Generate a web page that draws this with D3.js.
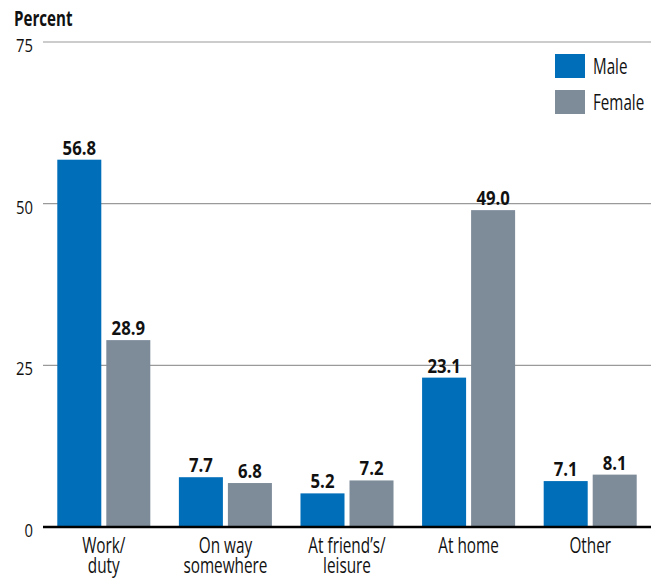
<!DOCTYPE html>
<html>
<head>
<meta charset="utf-8">
<script src="https://cdn.jsdelivr.net/npm/d3@7"></script>
<style>
  body { margin: 0; background: #fff; }
  text { font-family: "Open Sans", "Noto Sans", sans-serif; fill: #111; }
</style>
</head>
<body>
<svg id="chart" width="657" height="579"></svg>
<script>
// data
var categories = [["Work/", "duty"], ["On way", "somewhere"], ["At friend\u2019s/", "leisure"], ["At home"], ["Other"]];
var seriesNames = ["Male", "Female"];
var male = [56.8, 7.7, 5.2, 23.1, 7.1];
var female = [28.9, 6.8, 7.2, 49.0, 8.1];
var yTicks = [0, 25, 50, 75];
var colors = ["#006EB9", "#7E8C9A"];

var svg = d3.select("#chart");

// squeeze horizontally to mimic a condensed face
function place(x, y, sq) { return "translate(" + x + "," + y + ") scale(" + sq + ",1)"; }

var keys = categories.map(function (c) { return c.join(" "); });
var rows = keys.map(function (k, i) { return { key: k, lines: categories[i], values: [male[i], female[i]] }; });

var x = d3.scaleBand().domain(keys).range([43, 651]).paddingInner(0.235).paddingOuter(0.1175);
var xs = d3.scaleBand().domain(seriesNames).range([0, x.bandwidth()]).paddingInner(0.102);
var y = d3.scaleLinear().domain([0, 75]).range([527, 42]);

// gridlines
svg.append("g").selectAll("line")
  .data(yTicks.filter(function (d) { return d > 0; }))
  .join("line")
  .attr("x1", 43).attr("x2", 651)
  .attr("y1", function (d) { return y(d); }).attr("y2", function (d) { return y(d); })
  .attr("stroke", "#9a9a9a").attr("stroke-width", 1.2);

// y tick labels
svg.append("g").selectAll("text")
  .data(yTicks)
  .join("text")
  .attr("transform", function (d) { return place(33, y(d) + 10, 0.78); })
  .attr("text-anchor", "end")
  .style("font-size", "19px")
  .text(function (d) { return d; });

svg.append("text")
  .attr("transform", place(14, 26, 0.72))
  .style("font-size", "21px").style("font-weight", "bold")
  .text("Percent");

// bars
var groups = svg.append("g").selectAll("g")
  .data(rows)
  .join("g")
  .attr("transform", function (d) { return "translate(" + x(d.key) + ",0)"; });

groups.selectAll("rect")
  .data(function (d) { return d.values.map(function (v, j) { return { name: seriesNames[j], v: v, j: j }; }); })
  .join("rect")
  .attr("x", function (d) { return xs(d.name); })
  .attr("width", xs.bandwidth())
  .attr("y", function (d) { return y(d.v); })
  .attr("height", function (d) { return y(0) - y(d.v); })
  .attr("fill", function (d) { return colors[d.j]; });

groups.selectAll("text.val")
  .data(function (d) { return d.values.map(function (v, j) { return { name: seriesNames[j], v: v }; }); })
  .join("text")
  .attr("class", "val")
  .attr("transform", function (d) { return place(xs(d.name) + xs.bandwidth() / 2, y(d.v) - 5, 0.88); })
  .attr("text-anchor", "middle")
  .style("font-size", "19px").style("font-weight", "bold")
  .text(function (d) { return d3.format(".1f")(d.v); });

// baseline
svg.append("line")
  .attr("x1", 43).attr("x2", 651)
  .attr("y1", y(0)).attr("y2", y(0))
  .attr("stroke", "#000").attr("stroke-width", 2.5);

// category labels, one text per line
var catLines = [];
rows.forEach(function (d) {
  d.lines.forEach(function (l, i) { catLines.push({ l: l, c: x(d.key) + x.bandwidth() / 2, i: i }); });
});
svg.append("g").selectAll("text")
  .data(catLines)
  .join("text")
  .attr("transform", function (d) { return place(d.c, 553 + d.i * 20, 0.73); })
  .attr("text-anchor", "middle")
  .style("font-size", "21px")
  .text(function (d) { return d.l; });

// legend
var leg = svg.append("g").selectAll("g")
  .data(seriesNames)
  .join("g")
  .attr("transform", function (d, i) { return "translate(555," + (54 + i * 36) + ")"; });
leg.append("rect").attr("width", 30).attr("height", 24)
  .attr("fill", function (d, i) { return colors[i]; });
leg.append("text").attr("transform", place(38, 20, 0.69))
  .style("font-size", "22px")
  .text(function (d) { return d; });
</script>
</body>
</html>
